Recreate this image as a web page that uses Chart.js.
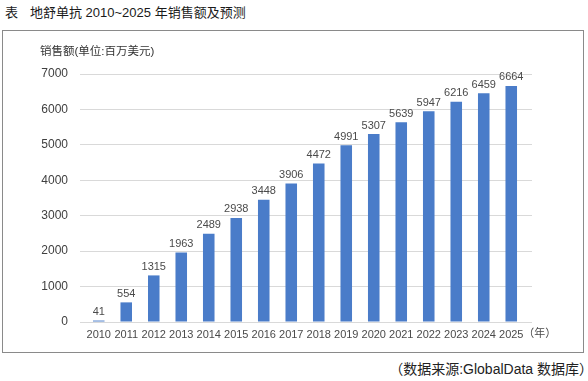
<!DOCTYPE html>
<html>
<head>
<meta charset="utf-8">
<script src="https://cdn.jsdelivr.net/npm/chart.js@4/dist/chart.umd.min.js"></script>
<style>
  html, body { margin:0; padding:0; background:#fff; }
  body { width:588px; height:381px; position:relative; overflow:hidden;
         font-family:"Liberation Sans","Noto Sans CJK SC",sans-serif; }
  #title { position:absolute; left:5px; top:4px; font-size:13px; color:#1a1a1a; white-space:nowrap; line-height:18px; }
  #title span { display:inline-block; width:25px; }
  #box { position:absolute; left:2px; top:30px; width:582px; height:323px; border:1.5px solid #8a8a8a; box-sizing:border-box; }
  #src { position:absolute; right:-5px; top:360px; font-size:14px; color:#222; white-space:nowrap; line-height:18px; }
  #wrap { position:absolute; left:0; top:0; width:588px; height:381px; }
</style>
</head>
<body>
<div id="title"><span>表</span>地舒单抗 2010~2025 年销售额及预测</div>
<div id="box"></div>
<div id="src">（数据来源:GlobalData 数据库）</div>
<div id="wrap"><canvas id="c" width="588" height="381"></canvas></div>
<script>
const categories = ["2010","2011","2012","2013","2014","2015","2016","2017","2018","2019","2020","2021","2022","2023","2024","2025"];
const sales = [41,554,1315,1963,2489,2938,3448,3906,4472,4991,5307,5639,5947,6216,6459,6664];
const yTicks = [0,1000,2000,3000,4000,5000,6000,7000];
const yAxisTitle = "销售额(单位:百万美元)";
const xUnit = "（年）";

const FONT = '"Liberation Sans","Noto Sans CJK SC",sans-serif';

const extras = {
  id: 'extras',
  afterDatasetsDraw(chart) {
    const ctx = chart.ctx;
    const meta = chart.getDatasetMeta(0);
    ctx.save();
    ctx.font = '11px ' + FONT;
    ctx.fillStyle = '#4a4a4a';
    ctx.textAlign = 'center';
    ctx.textBaseline = 'bottom';
    meta.data.forEach((bar, i) => {
      ctx.fillText(String(sales[i]), bar.x, bar.y - 3);
    });
    // axis title
    ctx.font = '11.5px ' + FONT;
    ctx.fillStyle = '#333';
    ctx.textAlign = 'left';
    ctx.textBaseline = 'middle';
    ctx.fillText(yAxisTitle, 40, 52);
    // unit
    const xs = chart.scales.x;
    ctx.font = '11px ' + FONT;
    ctx.fillStyle = '#4a4a4a';
    ctx.fillText(xUnit, xs.getPixelForValue(15) + 12, 334);
    ctx.restore();
  }
};

new Chart(document.getElementById('c'), {
  type: 'bar',
  data: {
    labels: categories,
    datasets: [{
      data: sales,
      backgroundColor: '#4a7cc9',
      barPercentage: 0.42,
      categoryPercentage: 1.0
    }]
  },
  options: {
    responsive: false,
    animation: false,
    devicePixelRatio: 1,
    layout: { padding: { left: 0, right: 0, top: 74, bottom: 0 } },
    plugins: { legend: { display: false }, tooltip: { enabled: false } },
    scales: {
      x: {
        grid: { display: false, drawTicks: false },
        border: { display: false },
        ticks: { color: '#4a4a4a', font: { size: 11, family: FONT }, maxRotation: 0, autoSkip: false, padding: 6 },
        afterFit(s) { s.height = 59; }
      },
      y: {
        min: 0, max: 7000,
        afterBuildTicks(s) { s.ticks = yTicks.map(v => ({ value: v })); },
        grid: { color: '#d9d9d9', lineWidth: 1, drawTicks: true, tickLength: 5 },
        border: { display: false },
        ticks: { color: '#404040', font: { size: 12, family: FONT }, padding: 12, callback: (v) => String(v) },
        afterFit(s) { s.width = 85; }
      },
      y2: {
        position: 'right',
        min: 0, max: 7000,
        afterBuildTicks(s) { s.ticks = yTicks.map(v => ({ value: v })); },
        grid: { color: '#d9d9d9', lineWidth: 1, drawOnChartArea: false, drawTicks: true, tickLength: 7 },
        border: { display: false },
        ticks: { display: false },
        afterFit(s) { s.width = 63; }
      }
    }
  },
  plugins: [extras]
});
</script>
</body>
</html>
